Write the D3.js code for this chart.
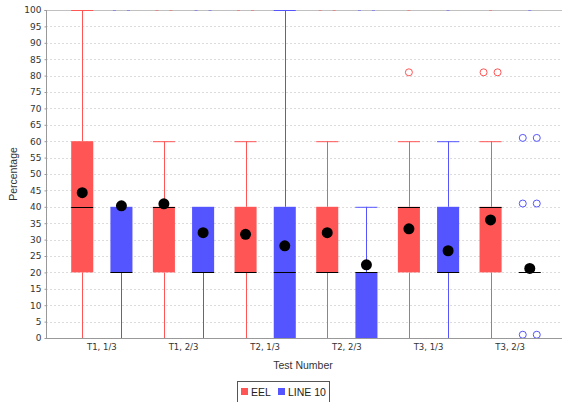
<!DOCTYPE html>
<html>
<head>
<meta charset="utf-8">
<script src="https://cdn.jsdelivr.net/npm/d3@7"></script>
<style>
  body { margin: 0; background: #fff; }
  svg { display: block; font-family: "Liberation Sans", Arial, sans-serif; }
</style>
</head>
<body>
<svg id="chart" width="562" height="402"></svg>
<script>
// Categories and series
const categories = ['T1, 1/3', 'T1, 2/3', 'T2, 1/3', 'T2, 2/3', 'T3, 1/3', 'T3, 2/3'];
const series = ['EEL', 'LINE 10'];
const colors = ['#ff5555', '#5555ff'];

// Box stats per category, one array per series: [min, q1, median, q3, max]
const eelBoxes = [
  [0, 20, 40, 60, 100],
  [0, 20, 40, 40, 60],
  [0, 20, 20, 40, 60],
  [0, 20, 20, 40, 60],
  [0, 20, 40, 40, 60],
  [0, 20, 40, 40, 60]
];
const lineBoxes = [
  [0, 20, 20, 40, 40],
  [0, 20, 20, 40, 40],
  [0, 0, 20, 40, 100],
  [0, 0, 20, 20, 40],
  [0, 20, 20, 40, 60],
  [20, 20, 20, 20, 20]
];
const eelMeans = [44.3, 40.9, 31.6, 32.1, 33.3, 36.0];
const lineMeans = [40.3, 32.1, 28.1, 22.3, 26.6, 21.2];
// Outliers inside the axis range
const eelOutliers = [[], [], [], [], [81], [81, 81]];
const lineOutliers = [[], [], [], [], [], [61, 61, 41, 41, 1, 1]];
// Count of far-out values above the axis (drawn as marks at the top edge)
const eelFarOut = [0, 2, 2, 2, 1, 1];
const lineFarOut = [2, 2, 0, 2, 1, 1];

const yTicks = d3.range(0, 101, 5);

(function () {
  const svg = d3.select('#chart');
  const pl = 46, pr = 562, pt = 10, pb = 338;

  const y = d3.scaleLinear().domain([0, 100]).range([pb, pt]);
  const x0 = d3.scaleBand().domain(categories).range([61, 551]);
  const bw = x0.bandwidth();
  const x1 = d3.scalePoint().domain(series).range([bw * 0.26, bw * 0.74]);
  const boxW = bw * 0.27;

  // gridlines
  svg.append('g')
    .selectAll('line')
    .data(yTicks.filter(t => t > 0 && t < 100))
    .join('line')
    .attr('x1', pl).attr('x2', pr)
    .attr('y1', d => Math.round(y(d)) + 0.5).attr('y2', d => Math.round(y(d)) + 0.5)
    .attr('stroke', '#dcdcdc')
    .attr('stroke-dasharray', '2,2');

  // plot outline top
  svg.append('line')
    .attr('x1', pl).attr('x2', pr)
    .attr('y1', pt + 0.5).attr('y2', pt + 0.5)
    .attr('stroke', '#c0c0c0');

  const rows = [];
  categories.forEach((c, i) => {
    [eelBoxes, lineBoxes].forEach((boxes, s) => {
      rows.push({
        cat: c, s,
        stats: boxes[i],
        mean: s === 0 ? eelMeans[i] : lineMeans[i],
        out: s === 0 ? eelOutliers[i] : lineOutliers[i],
        far: s === 0 ? eelFarOut[i] : lineFarOut[i]
      });
    });
  });

  const cx = d => x0(d.cat) + x1(series[d.s]);

  const g = svg.append('g');
  rows.forEach(d => {
    const [mn, q1, med, q3, mx] = d.stats;
    const c = colors[d.s];
    const xc = Math.round(cx(d)) + 0.5;
    const bx = cx(d) - boxW / 2;
    // whiskers (lower cap sits under the axis line)
    if (mx > q3) {
      g.append('line').attr('x1', xc).attr('x2', xc).attr('y1', y(mx)).attr('y2', y(q3)).attr('stroke', c);
      g.append('line').attr('x1', bx).attr('x2', bx + boxW).attr('y1', y(mx) + 0.5).attr('y2', y(mx) + 0.5).attr('stroke', c);
    }
    if (mn < q1) {
      g.append('line').attr('x1', xc).attr('x2', xc).attr('y1', y(q1)).attr('y2', y(mn)).attr('stroke', c);
      g.append('line').attr('x1', bx).attr('x2', bx + boxW).attr('y1', y(mn) + 0.5).attr('y2', y(mn) + 0.5).attr('stroke', c);
    }
    // box
    if (q3 > q1) {
      g.append('rect')
        .attr('x', bx).attr('y', y(q3))
        .attr('width', boxW).attr('height', y(q1) - y(q3))
        .attr('fill', c);
    }
    // median
    g.append('line')
      .attr('x1', bx).attr('x2', bx + boxW)
      .attr('y1', Math.round(y(med)) + 0.5).attr('y2', Math.round(y(med)) + 0.5)
      .attr('stroke', '#000').attr('stroke-width', 1);
    // mean
    g.append('circle')
      .attr('cx', cx(d)).attr('cy', y(d.mean))
      .attr('r', 5.5).attr('fill', '#000');
    // outliers, duplicates side by side
    d3.groups(d.out, v => v).forEach(([v, arr]) => {
      arr.forEach((_, k) => {
        const off = arr.length > 1 ? (k - (arr.length - 1) / 2) * 14 : 0;
        g.append('circle')
          .attr('cx', cx(d) + off).attr('cy', y(v))
          .attr('r', 3.5).attr('fill', 'none')
          .attr('stroke', c).attr('stroke-width', 1);
      });
    });
    // far-out marks at the top edge
    for (let k = 0; k < d.far; k++) {
      const off = d.far > 1 ? (k - (d.far - 1) / 2) * 14 : 0;
      g.append('line')
        .attr('x1', cx(d) + off - 1.5).attr('x2', cx(d) + off + 1.5)
        .attr('y1', pt + 0.5).attr('y2', pt + 0.5)
        .attr('stroke', c).attr('stroke-opacity', 0.5);
    }
  });

  // axes
  const yAxis = svg.append('g')
    .attr('transform', `translate(${pl + 0.5},0)`)
    .call(d3.axisLeft(y).tickValues(yTicks).tickSize(2).tickPadding(3));
  yAxis.select('.domain').attr('stroke', '#999').attr('d', `M-2,${pt + 0.5}H0V${pb}`);
  yAxis.selectAll('.tick line').attr('stroke', '#999');
  yAxis.selectAll('.tick text').attr('font-size', 9).attr('fill', '#333')
    .attr('font-family', '"DejaVu Sans", sans-serif');

  const xAxis = svg.append('g')
    .attr('transform', `translate(0,${pb + 0.5})`)
    .call(d3.axisBottom(x0).tickSize(0).tickPadding(5));
  xAxis.select('.domain').attr('stroke', '#999').attr('d', `M${pl},0H${pr}`);
  xAxis.selectAll('.tick text').attr('font-size', 8.5).attr('fill', '#333')
    .attr('font-family', '"DejaVu Sans", sans-serif');

  // titles
  svg.append('text')
    .attr('transform', `translate(17,${(pt + pb) / 2}) rotate(-90)`)
    .attr('text-anchor', 'middle')
    .attr('font-size', 10.5).attr('fill', '#333')
    .text('Percentage');
  svg.append('text')
    .attr('x', 303).attr('y', 369)
    .attr('text-anchor', 'middle')
    .attr('font-size', 10.5).attr('fill', '#333')
    .text('Test Number');

  // legend
  const lg = svg.append('g');
  lg.append('rect')
    .attr('x', 237.5).attr('y', 381.5).attr('width', 92).attr('height', 30)
    .attr('fill', '#fff').attr('stroke', '#555');
  const legendX = [241, 278];
  series.forEach((s, i) => {
    lg.append('rect').attr('x', legendX[i]).attr('y', 388).attr('width', 7).attr('height', 7).attr('fill', colors[i]);
    lg.append('text').attr('x', legendX[i] + 10).attr('y', 395.5)
      .attr('font-size', 10.5).attr('fill', '#222').text(s);
  });
})();
</script>
</body>
</html>
